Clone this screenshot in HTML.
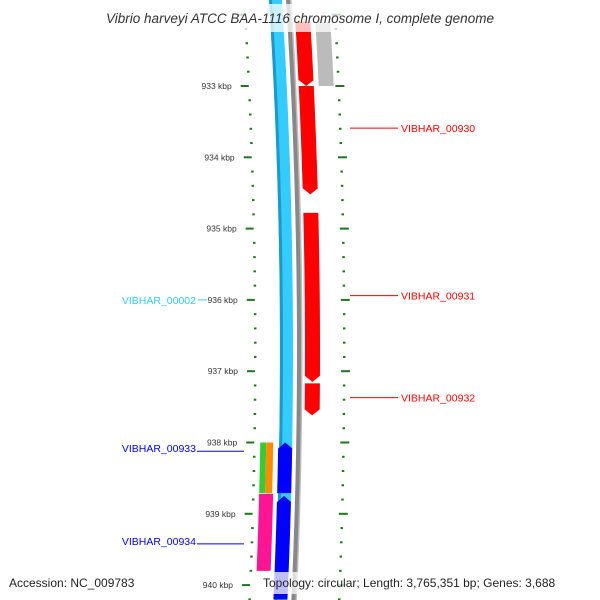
<!DOCTYPE html>
<html><head><meta charset="utf-8"><style>
body{margin:0;background:#fff;width:600px;height:600px;overflow:hidden}
svg{display:block;font-family:"Liberation Sans","DejaVu Sans",sans-serif}
</style></head><body>
<svg id="map" width="600" height="600" viewBox="0 0 600 600" xmlns="http://www.w3.org/2000/svg">
<g id="rulers"></g>
<g id="tracks"></g>
<g id="labels"></g>
<rect x="72" y="4" width="456" height="28" fill="#fff" opacity="0.75"/>
<text x="300" y="23" text-anchor="middle" font-size="13.5" font-style="italic" fill="#333">Vibrio harveyi ATCC BAA-1116 chromosome I, complete genome</text>
<text x="9" y="587" font-size="12" fill="#222">Accession: NC_009783</text>
<rect x="258" y="572" width="342" height="22" fill="#fff" opacity="0.75"/>
<text x="263" y="587" font-size="12" fill="#222">Topology: circular; Length: 3,765,351 bp; Genes: 3,688</text>
</svg>
<script>
const tickKbp=[933,934,935,936,937,938,939,940];
const tickLabels=["933 kbp","934 kbp","935 kbp","936 kbp","937 kbp","938 kbp","939 kbp","940 kbp"];
// features: start kbp, end kbp
const redStarts=[932.1,933.0,934.78,937.17];
const redEnds=[933.0,934.52,937.15,937.62];
const grayStarts=[932.1];const grayEnds=[933.0];
const blueStarts=[938.0,938.75];const blueEnds=[938.71,940.2];
const greenStarts=[938.0];const greenEnds=[938.71];
const pinkStarts=[938.72];const pinkEnds=[939.8];
const redLabels=["VIBHAR_00930","VIBHAR_00931","VIBHAR_00932"];
const redLabelKbp=[933.59,935.94,937.37];
const blueLabels=["VIBHAR_00002","VIBHAR_00933","VIBHAR_00934"];
const blueLabelKbp=[936.0,938.08,939.38];
const NS="http://www.w3.org/2000/svg";
function Y(k){return 86+(k-933)*71.3;}
function off(y){return -11*(y-350)*(y-350)/122500;}
function mk(t,a,p){const e=document.createElementNS(NS,t);for(const k in a)e.setAttribute(k,a[k]);p.appendChild(e);return e;}
const R=document.getElementById('rulers'),T=document.getElementById('tracks'),L=document.getElementById('labels');
// minor ticks
for(let k=932;k<=940.3;k+=0.2){const y=Y(k);if(y<-5||y>600)continue;const maj=Math.abs(k-Math.round(k))<0.01;
 let e=mk('rect',{x:(maj?247:254)+off(y),y:y-1,width:maj?8:2.5,height:2,fill:'#1a7a1a'},R);
 
 const y2=y-0;const ox=off(y2)*0.9;
 e=mk('rect',{x:(maj?341:343)+ox,y:y2-1,width:maj?9:2.5,height:2,fill:'#1a7a1a'},R);
 }
tickKbp.forEach((k,i)=>{const y=Y(k);const e=mk('text',{x:238+off(y),y:y+3,'text-anchor':'end','font-size':'8.5',fill:'#333'},R);e.textContent=tickLabels[i];
 });
function band(x0,w,y0,y1,fill,name,arrow){let pts=[];const n=20;
 for(let i=0;i<=n;i++){const y=y0+(y1-y0)*i/n;pts.push([x0+off(y),y]);}
 let d='M'+pts.map(p=>p[0]+','+p[1]).join(' L');
 const r=pts.slice().reverse().map(p=>(p[0]+w)+','+p[1]);
 if(arrow==='down'){const yb=y1;d='M'+pts.slice(0,-1).map(p=>p[0]+','+p[1]).join(' L');const a=pts[n][0];d+=' L'+a+','+(y1-6)+' L'+(a+w/2)+','+y1+' L'+(a+w)+','+(y1-6);r.shift();}
 if(arrow==='up'){d='M'+(pts[0][0]+w/2)+','+y0+' L'+pts[0][0]+','+(y0+6)+' L'+pts.slice(1).map(p=>p[0]+','+p[1]).join(' L');r.pop();r.push((pts[0][0]+w)+','+(y0+6));}
 d+=' L'+r.join(' L')+' Z';const e=mk('path',{d:d,fill:fill},T);
 return e;}
band(280,13,-10,610,'#33ccff','blue-backbone-track');
band(280,3,-10,610,'#1a99cc','blue-track-edge');
band(297,5,-10,610,'#888','gray-backbone-track');
band(301,1.5,-10,610,'#bbb','gray-track-highlight');
redStarts.forEach((s,i)=>{band(305,15,Y(s),Y(redEnds[i]),'#ff0000','red-gene-feature','down');});
grayStarts.forEach((s,i)=>{band(325,15,Y(s),Y(grayEnds[i]),'#bbbbbb','gray-gene-feature');});
blueStarts.forEach((s,i)=>{band(279,14,Y(s),Y(blueEnds[i]),'#0000ff','blue-gene-feature','up');});
greenStarts.forEach((s,i)=>{band(261,6,Y(s),Y(greenEnds[i]),'#33cc33','green-gene-feature');band(267,7,Y(s),Y(greenEnds[i]),'#ff8c00','orange-gene-feature');});
pinkStarts.forEach((s,i)=>{band(261,14,Y(s),Y(pinkEnds[i]),'#ff1493','pink-gene-feature');});
redLabels.forEach((t,i)=>{const y=Y(redLabelKbp[i]);
 let e=mk('line',{x1:350,y1:y,x2:398,y2:y,stroke:'#ff0000','stroke-width':1},L);
 e=mk('text',{x:401,y:y+4,'font-size':'10.5',fill:'#ff0000'},L);e.textContent=t;});
blueLabels.forEach((t,i)=>{const y=Y(blueLabelKbp[i]);const c=i===0?'#33ccff':'#0000ff';
 let e=mk('line',{x1:i===0?198:197,y1:y+(i?3:0),x2:i===0?207:244,y2:y+(i?3:0),stroke:c,'stroke-width':1},L);
 e=mk('text',{x:196,y:y+4,'text-anchor':'end','font-size':'10.5',fill:c},L);e.textContent=t;});
</script>
</body></html>
